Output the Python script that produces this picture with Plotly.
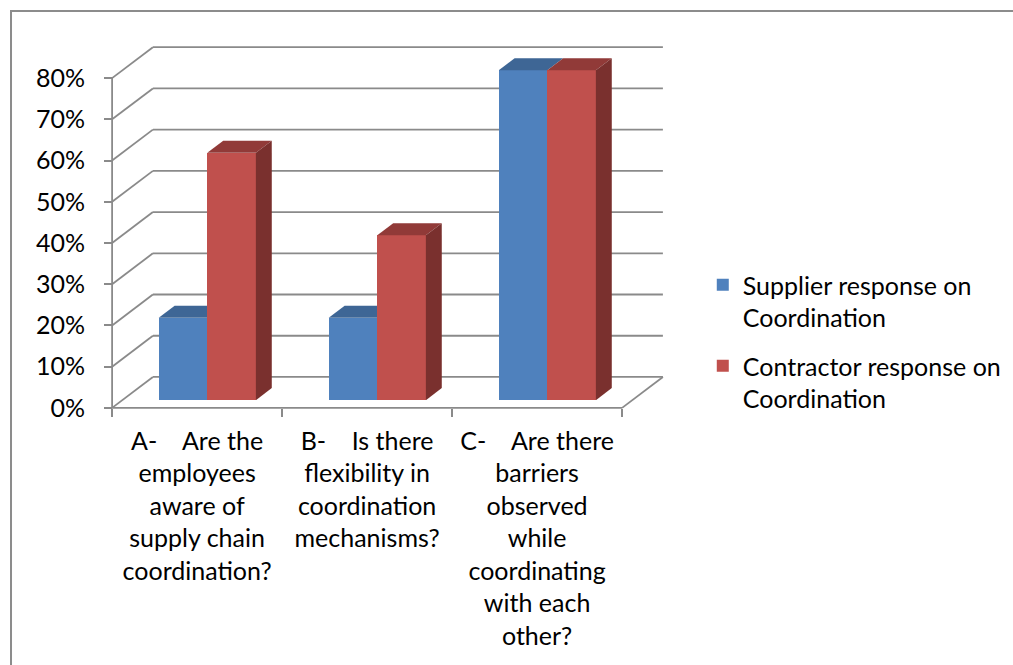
import plotly.graph_objects as go

# ---- data ----
NB = "\u00a0"
categories = [
    f"A-{NB*4}Are the<br>employees<br>aware of<br>supply chain<br>coordination?",
    f"B-{NB*4}Is there<br>flexibility in<br>coordination<br>mechanisms?",
    f"C-{NB*4}Are there<br>barriers<br>observed<br>while<br>coordinating<br>with each<br>other?",
]
supplier = [0.20, 0.20, 0.80]
contractor = [0.60, 0.40, 0.80]
series_names = ["Supplier response on<br>Coordination", "Contractor response on<br>Coordination"]
y_ticks = [0.0, 0.1, 0.2, 0.3, 0.4, 0.5, 0.6, 0.7, 0.8]

# ---- 3-D projection settings (category units / value units) ----
DEPTH_X, DEPTH_Y = 0.24, 0.075      # oblique offset of the back wall
BAR_FRONT, BAR_BACK = 0.25, 0.64    # column depth as fraction of floor depth
BAR_W = 1 / 3.5                      # gap width 150%

X_RANGE = [-0.03, 3.27]
Y_RANGE = [-0.01, 0.89]

GRID = "#8a8a8a"
BLUE, BLUE_TOP = "#4F81BD", "#3E6695"
RED, RED_TOP, RED_SIDE = "#C0504D", "#913A38", "#7A302E"
FONT = "Lato"

fig = go.Figure()

n = len(categories)
sx, sy = BAR_FRONT * DEPTH_X, BAR_FRONT * DEPTH_Y
bdx, bdy = (BAR_BACK - BAR_FRONT) * DEPTH_X, (BAR_BACK - BAR_FRONT) * DEPTH_Y
centers = [i + 0.5 + sx for i in range(n)]

# Supplier columns (base subplot)
fig.add_trace(go.Bar(
    x=centers, y=supplier, base=[sy] * n, offset=-BAR_W, width=BAR_W,
    marker=dict(color=BLUE, line=dict(width=0)), name=series_names[0],
    legendgroup="s", xaxis="x", yaxis="y", hoverinfo="skip"))
for c, v in zip(centers, supplier):
    xl, xr, t = c - BAR_W, c, sy + v
    fig.add_trace(go.Scatter(
        x=[xl, xr, xr + bdx, xl + bdx, xl], y=[t, t, t + bdy, t + bdy, t],
        fill="toself", fillcolor=BLUE_TOP, line=dict(width=0), mode="lines",
        showlegend=False, hoverinfo="skip", xaxis="x", yaxis="y"))

# Contractor columns (overlay subplot, drawn above the supplier columns)
fig.add_trace(go.Bar(
    x=centers, y=contractor, base=[sy] * n, offset=0, width=BAR_W,
    marker=dict(color=RED, line=dict(width=0)), name=series_names[1],
    legendgroup="c", xaxis="x2", yaxis="y2", hoverinfo="skip"))
for c, v in zip(centers, contractor):
    xl, xr, t = c, c + BAR_W, sy + v
    fig.add_trace(go.Scatter(
        x=[xl, xr, xr + bdx, xl + bdx, xl], y=[t, t, t + bdy, t + bdy, t],
        fill="toself", fillcolor=RED_TOP, line=dict(width=0), mode="lines",
        showlegend=False, hoverinfo="skip", xaxis="x2", yaxis="y2"))
    fig.add_trace(go.Scatter(
        x=[xr, xr, xr + bdx, xr + bdx, xr], y=[sy, t, t + bdy, sy + bdy, sy],
        fill="toself", fillcolor=RED_SIDE, line=dict(width=0), mode="lines",
        showlegend=False, hoverinfo="skip", xaxis="x2", yaxis="y2"))

# Walls: gridlines on side and back walls, floor outline, front value axis
shapes = []
line = dict(color=GRID, width=1.8)
for v in y_ticks:
    shapes.append(dict(type="line", xref="x", yref="y", x0=0, y0=v,
                       x1=DEPTH_X, y1=v + DEPTH_Y, line=line, layer="below"))
    shapes.append(dict(type="line", xref="x", yref="y", x0=DEPTH_X, y0=v + DEPTH_Y,
                       x1=n + DEPTH_X, y1=v + DEPTH_Y, line=line, layer="below"))
shapes.append(dict(type="line", xref="x", yref="y", x0=0, y0=0, x1=n, y1=0,
                   line=line, layer="below"))
shapes.append(dict(type="line", xref="x", yref="y", x0=n, y0=0,
                   x1=n + DEPTH_X, y1=DEPTH_Y, line=line, layer="below"))
shapes.append(dict(type="line", xref="x", yref="y", x0=0, y0=0, x1=0, y1=y_ticks[-1],
                   line=line, layer="below"))
# chart area frame
shapes.append(dict(type="rect", xref="paper", yref="paper", x0=-0.1711, y0=-1,
                   x1=2, y1=1.081, line=dict(color="#8c8c8c", width=2), layer="below"))

xpos = (0 - X_RANGE[0]) / (X_RANGE[1] - X_RANGE[0])
ypos = (0 - Y_RANGE[0]) / (Y_RANGE[1] - Y_RANGE[0])

fig.update_layout(
    width=1013, height=665,
    margin=dict(l=107, r=345, t=41, b=253, autoexpand=False),
    paper_bgcolor="white", plot_bgcolor="rgba(0,0,0,0)",
    barmode="overlay", bargap=0,
    font=dict(family=FONT, size=25, color="black"),
    shapes=shapes,
    showlegend=True,
    legend=dict(x=1.062, y=0.404, xanchor="left", yanchor="top",
                valign="top", tracegroupgap=13, font=dict(size=25),
                bgcolor="rgba(0,0,0,0)"),
    xaxis=dict(range=X_RANGE, anchor="free", position=ypos,
               tickvals=[i + 0.5 for i in range(n)], ticktext=categories,
               ticks="", showgrid=False, zeroline=False, showline=False,
               ticklabelstandoff=16,
               minor=dict(tickvals=list(range(n + 1)), ticks="outside",
                          ticklen=8, tickwidth=1.8, tickcolor=GRID, showgrid=False)),
    yaxis=dict(range=Y_RANGE, anchor="free", position=xpos,
               tickvals=y_ticks, tickformat=".0%", ticks="outside",
               ticklen=8, tickwidth=1.8, tickcolor=GRID,
               showgrid=False, zeroline=False, showline=False,
               ticklabelstandoff=14),
    xaxis2=dict(range=X_RANGE, overlaying="x", visible=False, matches="x"),
    yaxis2=dict(range=Y_RANGE, overlaying="y", visible=False, matches="y"),
)

fig.write_html("out.html")
